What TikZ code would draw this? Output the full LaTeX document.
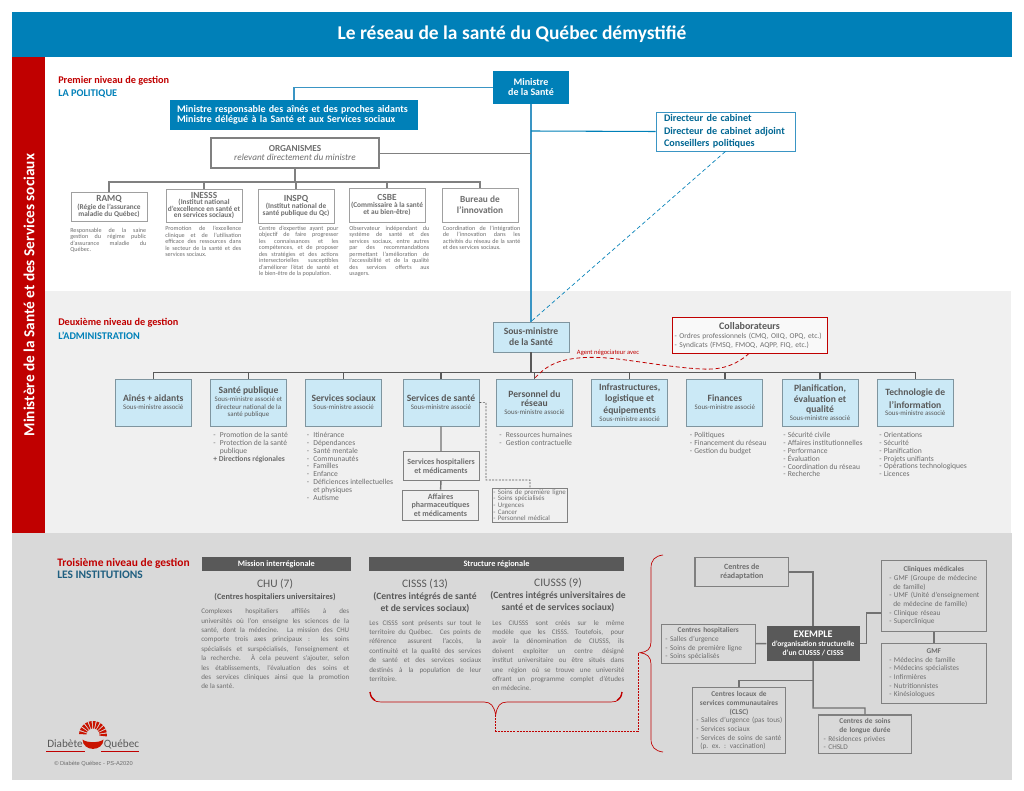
\documentclass[tikz,border=0pt]{standalone}
\usepackage{fontspec}
\setmainfont{Carlito}
\newfontfamily\copyfont{Liberation Sans}
\definecolor{qcblue}{HTML}{0080B8}
\definecolor{qcred}{HTML}{C00000}
\definecolor{lineblue}{HTML}{3A95C4}
\definecolor{paleblue}{HTML}{CBE9F6}
\definecolor{edgeblue}{HTML}{7F959F}
\definecolor{midgray}{HTML}{F0F0F0}
\definecolor{lowgray}{HTML}{D9D9D9}
\definecolor{darkgray}{HTML}{595959}
\definecolor{txtgray}{HTML}{6E6E6E}
\definecolor{edgegray}{HTML}{808080}
\definecolor{edgelight}{HTML}{A0A0A0}
\definecolor{instblue}{HTML}{1F5F80}
\newcommand{\fs}[2]{\fontsize{#1}{#2}\selectfont}
\newcommand{\lit}[1]{\makebox[5pt][l]{-}#1\\}
\newcommand{\litn}[1]{\makebox[3.4pt][l]{-}#1\\}
\newcommand{\ttl}[1]{{\bfseries\fs{7.2}{8}#1}}
\newcommand{\ctr}[1]{\makebox[\linewidth][c]{\bfseries #1}}

\begin{document}
\begin{tikzpicture}[x=0.75pt,y=-0.75pt,node distance=71.4pt]

\tikzstyle{bl} = [rectangle, fill=qcblue, text=white, inner sep=0pt, font=\bfseries\fs{7.5}{7.5}]
\tikzstyle{sq} = [rectangle, draw=edgegray, line width=0.6pt, fill=white, text=txtgray, align=center, inner sep=0pt, minimum width=57pt]
\tikzstyle{org} = [sq, draw=edgelight, minimum height=24pt, font=\bfseries\fs{5.5}{5.3}]
\tikzstyle{pale} = [rectangle, draw=edgeblue, line width=0.7pt, fill=paleblue, text=darkgray, align=center, inner sep=0pt, minimum width=57pt, minimum height=35.25pt, font=\fs{5.2}{5.8}]
\tikzstyle{dk} = [rectangle, fill=darkgray, text=white, inner sep=0pt, font=\bfseries\fs{6.2}{7}]
\tikzstyle{exa} = [rectangle, draw=edgegray, line width=0.8pt, fill=lowgray, text=txtgray, inner sep=0pt, font=\fs{5.5}{6.5}]
\tikzstyle{desc} = [anchor=north west, inner sep=0pt, text width=57pt, align=justify, text=txtgray, font=\fs{4.6}{4.9}]
\tikzstyle{para} = [anchor=north west, inner sep=0pt, align=justify, text=txtgray, font=\fs{5.3}{7.05}]
\tikzstyle{lst} = [anchor=north west, inner sep=0pt, align=left, text=txtgray, font=\fs{5.7}{5.9}]
\tikzstyle{head} = [anchor=west, inner sep=0pt, font=\bfseries\fs{7.7}{8.5}]
\tikzstyle{big} = [inner sep=0pt, align=center, text=darkgray, font=\fs{8.6}{10}]
\tikzstyle{sub} = [inner sep=0pt, align=center, text=darkgray, font=\bfseries\fs{7.2}{9}]
\tikzstyle{mainl} = [lineblue, line width=1.1pt]
\tikzstyle{gl} = [edgegray, line width=1pt]
\tikzstyle{al} = [darkgray, line width=1pt]
\tikzstyle{xl} = [darkgray!85, line width=1.1pt]

\useasboundingbox (0,0) rectangle (1024,791);
\fill[white] (0,0) rectangle (1024,791);

% bands
\fill[midgray] (45,291) rectangle (1011,533);
\fill[lowgray] (12,533) rectangle (1012,780);
\fill[qcblue] (12,12) rectangle (1012,57);
\fill[qcred] (12,57) rectangle (45,533);
\node (title) [inner sep=0pt, text=white, font=\bfseries\fs{14.6}{16}] at (512,34) {Le réseau de la santé du Québec démystifié};
\node (ministere) [inner sep=0pt, text=white, rotate=90, font=\bfseries\fs{11.5}{13}] at (29,295) {Ministère de la Santé et des Services sociaux};

% level 1
\node (lvla) [head, text=qcred] at (58,81) {Premier niveau de gestion};
\node (lvlb) [head, text=qcblue] at (58,93.5) {LA POLITIQUE};
\node (ministre) [bl, minimum width=57pt, minimum height=24.75pt, align=center] at (531,87.5) {Ministre\\de la Santé};
\node (minresp) [bl, minimum height=22.5pt, inner xsep=5.25pt, text width=175.5pt, align=left] at (294,115) {Ministre responsable des aînés et des proches aidants\\Ministre délégué à la Santé et aux Services sociaux};
\node (organismes) [sq, line width=1pt, minimum width=126pt, minimum height=22.5pt, font=\fs{6.9}{7}] at (295,153) {\textbf{ORGANISMES}\\\textit{relevant directement du ministre}};
\node (dircab) [rectangle, draw=lineblue, line width=0.6pt, fill=white, minimum width=104.25pt, minimum height=29.25pt, inner sep=0pt, inner xsep=6pt, text width=92.25pt, align=left, text=qcblue!80!black, font=\bfseries\fs{7.6}{9.25}] at (725.5,131.5) {Directeur de cabinet\\Directeur de cabinet adjoint\\Conseillers politiques};

\node (ramq) [org, minimum height=21.75pt] at (109,206.5) {{\fs{7}{7.5}RAMQ}\\(Régie de l’assurance\\maladie du Québec)};
\node (inesss) [org, minimum height=24.75pt, font=\bfseries\fs{5.5}{4.4}] at (204,205.5) {{\fs{7}{5.5}INESSS}\\(Institut national\\d’excellence en santé et\\en services sociaux)};
\node (inspq) [org, minimum height=25.5pt] at (296,206) {{\fs{7}{7.5}INSPQ}\\(Institut national de\\santé publique du Qc)};
\node (csbe) [org, minimum height=25.5pt] at (387,205) {{\fs{7}{7.5}CSBE}\\(Commissaire à la santé\\et au bien-être)};
\node (bureau) [org, minimum height=25.5pt, font=\bfseries\fs{7}{8.5}] at (480,205) {Bureau de\\l’innovation};

\node (ramqtxt) [desc] at (70,227.5) {Responsable de la saine\linebreak gestion du régime public\linebreak d’assurance maladie du\linebreak Québec.};
\node (inessstxt) [desc] at (165,226) {Promotion de l’excellence\linebreak clinique et de l’utilisation\linebreak efficace des ressources dans\linebreak le secteur de la santé et des\linebreak services sociaux.};
\node (inspqtxt) [desc, text width=59.7pt] at (258.7,225.5) {Centre d’expertise ayant pour\linebreak objectif de faire progresser\linebreak les connaissances et les\linebreak compétences, et de proposer\linebreak des stratégies et des actions\linebreak intersectorielles susceptibles\linebreak d’améliorer l’état de santé et\linebreak le bien-être de la population.};
\node (csbetxt) [desc, text width=60pt] at (349,225.5) {Observateur indépendant du\linebreak système de santé et des\linebreak services sociaux, entre autres\linebreak par des recommandations\linebreak permettant l’amélioration de\linebreak l’accessibilité et de la qualité\linebreak des services offerts aux\linebreak usagers.};
\node (bureautxt) [desc, text width=58pt] at (442.7,225.5) {Coordination de l’intégration\linebreak de l’innovation dans les\linebreak activités du réseau de la santé\linebreak et des services sociaux.};

% level 2
\node (lvlc) [head, text=qcred] at (58,323) {Deuxième niveau de gestion};
\node (lvld) [head, text=qcblue] at (58,335.5) {L’ADMINISTRATION};
\node (sousmin) [pale, minimum height=22.5pt, font=\bfseries\fs{7.2}{8}] at (531,337) {Sous-ministre\\de la Santé};
\node (collab) [rectangle, draw=qcred, line width=0.7pt, fill=midgray!40!white, minimum width=116.25pt, minimum height=26.6pt, inner sep=0pt, inner xsep=2pt, text width=112.25pt, align=left, text=txtgray, font=\fs{5.6}{7}] at (749.5,335.7) {\makebox[\linewidth][c]{\bfseries\fs{7.5}{8}\textcolor{darkgray}{Collaborateurs}}\\- Ordres professionnels (CMQ, OIIQ, OPQ, etc.)\\- Syndicats (FMSQ, FMOQ, AQPP, FIQ, etc.)};

\node (aines) [pale] at (153.25,402.5) {\ttl{Aînés + aidants}\\Sous-ministre associé};
\node (santepub) [pale, right of=aines] {\ttl{Santé publique}\\Sous-ministre associé et\\directeur national de la\\santé publique};
\node (servsoc) [pale, right of=santepub] {\ttl{Services sociaux}\\Sous-ministre associé};
\node (servsan) [pale, right of=servsoc, xshift=1.6pt] {\ttl{Services de santé}\\Sous-ministre associé};
\node (personnel) [pale, right of=servsan, xshift=-1.3pt] {\ttl{Personnel du}\\[1.6pt]\ttl{réseau}\\Sous-ministre associé};
\node (infra) [pale, right of=personnel] {\ttl{Infrastructures,}\\[1.6pt]\ttl{logistique et}\\[1.6pt]\ttl{équipements}\\Sous-ministre associé};
\node (finances) [pale, right of=infra] {\ttl{Finances}\\Sous-ministre associé};
\node (planif) [pale, right of=finances] {\ttl{Planification,}\\[1.6pt]\ttl{évaluation et}\\[1.6pt]\ttl{qualité}\\Sous-ministre associé};
\node (techno) [pale, right of=planif] {\ttl{Technologie de}\\[1.6pt]\ttl{l’information}\\Sous-ministre associé};

\node (servhop) [sq, fill=midgray, line width=0.7pt, minimum height=21.75pt, font=\bfseries\fs{6}{6.7}] at (441,466.2) {Services hospitaliers\\et médicaments};
\node (affaires) [sq, fill=midgray, line width=0.7pt, minimum height=22.5pt, font=\bfseries\fs{6}{6.3}] at (440.5,505) {Affaires\\pharmaceutiques\\et médicaments};
\node (soinsbox) [sq, fill=midgray, line width=0.5pt, anchor=north west, minimum width=56.6pt, minimum height=25.6pt, inner xsep=0.8pt, text width=55pt, align=left, font=\fs{5.2}{4.9}] at (492,487.7) {- Soins de première ligne\\- Soins spécialisés\\- Urgences\\- Cancer\\- Personnel médical};

\node (lstsante) [lst] at (213,432) {\lit{Promotion de la santé}\lit{Protection de la santé}\hspace*{5pt}publique\\{\bfseries + Directions régionales}};
\node (lstsoc) [lst] at (306.5,432) {\lit{Itinérance}\lit{Dépendances}\lit{Santé mentale}\lit{Communautés}\lit{Familles}\lit{Enfance}\lit{Déficiences intellectuelles}\hspace*{5pt}et physiques\\\lit{Autisme}};
\node (lstpers) [lst] at (499,432) {\lit{Ressources humaines}\lit{Gestion contractuelle}};
\node (lstfin) [lst] at (689.5,432) {\litn{Politiques}\litn{Financement du réseau}\litn{Gestion du budget}};
\node (lstplan) [lst] at (783,432) {\litn{Sécurité civile}\litn{Affaires institutionnelles}\litn{Performance}\litn{Évaluation}\litn{Coordination du réseau}\litn{Recherche}};
\node (lsttech) [lst] at (879,432) {\litn{Orientations}\litn{Sécurité}\litn{Planification}\litn{Projets unifiants}\litn{Opérations technologiques}\litn{Licences}};
\node (agent) [inner sep=0pt, text=qcred, font=\fs{4.9}{5.5}] at (608,353) {Agent négociateur avec};

% level 3
\node (lvle) [head, text=qcred, font=\bfseries\fs{8.6}{9}] at (57,563) {Troisième niveau de gestion};
\node (lvlf) [head, text=instblue, font=\bfseries\fs{8.6}{9}] at (57,575) {LES INSTITUTIONS};
\node (mission) [dk, minimum width=111.75pt, minimum height=10.3pt] at (276.3,564) {Mission interrégionale};
\node (structure) [dk, minimum width=191.25pt, minimum height=10.3pt] at (496.5,564) {Structure régionale};
\node (chu) [big] at (275,584.5) {CHU (7)};
\node (chusub) [sub, font=\bfseries\fs{6.2}{9}] at (275,597) {(Centres hospitaliers universitaires)};
\node (cisss) [big] at (425,584.5) {CISSS (13)};
\node (cissssub) [sub] at (425,602.5) {(Centres intégrés de santé\\et de services sociaux)};
\node (ciusss) [big] at (558,583.5) {CIUSSS (9)};
\node (ciussssub) [sub] at (558,602) {(Centres intégrés universitaires de\\santé et de services sociaux)};

\node (chutxt) [para, text width=111pt] at (201,608.5) {Complexes hospitaliers affiliés à des\linebreak universités où l’on enseigne les sciences de la\linebreak santé, dont la médecine. La mission des CHU\linebreak comporte trois axes principaux : les soins\linebreak spécialisés et surspécialisés, l’enseignement et\linebreak la recherche. À cela peuvent s’ajouter, selon\linebreak les établissements, l’évaluation des soins et\linebreak des services cliniques ainsi que la promotion\linebreak de la santé.};
\node (cissstxt) [para, text width=84pt] at (369,620) {Les CISSS sont présents sur tout le\linebreak territoire du Québec. Ces points de\linebreak référence assurent l’accès, la\linebreak continuité et la qualité des services\linebreak de santé et des services sociaux\linebreak destinés à la population de leur\linebreak territoire.};
\node (ciussstxt) [para, text width=99pt] at (492,620) {Les CIUSSS sont créés sur le même\linebreak modèle que les CISSS. Toutefois, pour\linebreak avoir la dénomination de CIUSSS, ils\linebreak doivent exploiter un centre désigné\linebreak institut universitaire ou être situés dans\linebreak une région où se trouve une université\linebreak offrant un programme complet d’études\linebreak en médecine.};

% braces
\coordinate (lowtip) at (495.7,715);
\coordinate (sidetip) at (640,652.7);
\coordinate (bendA) at (495.7,731);
\coordinate (bendB) at (638,731);
\coordinate (bendC) at (638,652.7);
\draw[qcred, line width=0.5pt] (370,692) .. controls (371,699) and (374,702) .. (381,702) -- (484,702) .. controls (491,702) and (494,706) .. (lowtip) .. controls (497,706) and (500,702) .. (507,702) -- (611,702) .. controls (618,702) and (621,699) .. (622,692);
\draw[qcred, line width=1pt] (370,692) .. controls (370.5,696) and (372,699) .. (375,700.5);
\draw[qcred, line width=1pt] (622,692) .. controls (621.5,696) and (620,699) .. (617,700.5);
\draw[qcred, line width=0.5pt] (663,555) .. controls (655,556) and (651,560) .. (651,568) -- (651,642) .. controls (651,649) and (647,652) .. (sidetip) .. controls (647,653.5) and (651,657) .. (651,664) -- (651,739) .. controls (651,747) and (655,751) .. (663,752);
\draw[qcred, line width=0.7pt, dashed, dash pattern=on 1.5pt off 0.8pt] (lowtip) -- (bendA) -- (bendB) -- (bendC);

% example
\node (exemple) [rectangle, fill=darkgray, text=white, inner sep=0pt, minimum width=69.75pt, minimum height=26pt, align=center, font=\bfseries\fs{5.7}{6.9}] at (813.2,643.6) {{\fs{7.6}{8.5}EXEMPLE}\\d’organisation structurelle\\d’un CIUSSS / CISSS};
\node (readapt) [exa, minimum width=70.2pt, minimum height=22pt, align=center, font=\bfseries\fs{6}{6.5}] at (741.8,572) {Centres de\\réadaptation};
\node (hosp) [exa, minimum width=70.3pt, minimum height=29.25pt, inner xsep=3pt, text width=64.3pt, align=left] at (708.2,643.8) {\ctr{Centres hospitaliers}\\- Salles d’urgence\\- Soins de première ligne\\- Soins spécialisés};
\node (clinique) [exa, minimum width=78.75pt, minimum height=53.5pt, inner xsep=3pt, text width=72.75pt, align=left] at (933.8,596) {\ctr{Cliniques médicales}\\\hspace*{3pt}- GMF (Groupe de médecine\\\hspace*{6pt}de famille)\\\hspace*{3pt}- UMF (Unité d’enseignement\\\hspace*{6pt}de médecine de famille)\\\hspace*{3pt}- Clinique réseau\\\hspace*{3pt}- Superclinique};
\node (gmf) [exa, minimum width=78.75pt, minimum height=45pt, inner xsep=3pt, text width=72.75pt, align=left] at (933.8,673.3) {\ctr{GMF}\\\hspace*{3pt}- Médecins de famille\\\hspace*{3pt}- Médecins spécialistes\\\hspace*{3pt}- Infirmières\\\hspace*{3pt}- Nutritionnistes\\\hspace*{3pt}- Kinésiologues};
\node (clsc) [exa, minimum width=70pt, minimum height=49.5pt, inner xsep=2pt, text width=66pt, align=left] at (739,720.7) {\ctr{Centres locaux de}\\\ctr{services communautaires}\\\ctr{(CLSC)}\\\hspace*{1pt}- Salles d’urgence (pas tous)\\\hspace*{1pt}- Services sociaux\\\hspace*{1pt}- Services de soins de santé\\\hspace*{4pt}(p. ex. : vaccination)};
\node (longue) [exa, minimum width=70pt, minimum height=29pt, inner xsep=4pt, text width=62pt, align=left] at (865,734.3) {\ctr{Centres de soins}\\\ctr{de longue durée}\\- Résidences privées\\- CHSLD};

% logo
\node (diabete) [inner sep=0pt, text=darkgray, font=\fs{8.4}{9}] at (65,744) {Diabète};
\node (quebec) [inner sep=0pt, text=darkgray, font=\fs{8.4}{9}] at (121.5,744) {Québec};
\coordinate (emblem) at (93,735);
\begin{scope}[shift={(emblem)}]
\foreach \a in {190,207,...,360}
  \fill[qcred!85!orange] ({\a-5}:6.5) -- ({\a+5}:6.5) -- ({\a+6}:14) -- ({\a-6}:14) -- cycle;
\fill[qcred!85!orange] (-10.5,4.5) .. controls (-10,17) and (10,17) .. (10.5,4.5) .. controls (7,8) and (-7,8) .. cycle;
\end{scope}
\draw[qcred, line width=0.6pt] (46,751) -- (85,751);
\draw[qcred, line width=0.6pt] (101,751) -- (139,751);
\node (copyr) [inner sep=0pt, text=txtgray, font=\copyfont\fs{4.3}{5}] at (93.5,764) {© Diabète Québec - PS-A2020};

% connectors
\coordinate (orgjoin) at (531,153);
\coordinate (cabjoin) at (531,131);
\coordinate (orgbar) at (295,182);
\coordinate (admbar) at (531,372.5);
\coordinate (dashA) at (486,402.7);
\coordinate (dashB) at (486,480);
\coordinate (dashC) at (530,480);
\coordinate (exaA) at (813,680.7);
\coordinate (exaB) at (813,708);
\coordinate (exaC) at (866.7,643.6);
\coordinate (exaD) at (866.7,613);
\coordinate (negS) at (749,353.5);
\coordinate (negA) at (702,369);
\coordinate (negB) at (633,361);
\coordinate (negC) at (574,358.5);

\draw[mainl] (ministre)--(sousmin);
\draw[mainl, line width=0.8pt] (ministre.west)-|(minresp.north);
\draw[mainl, qcblue, line width=0.8pt] (dircab.west)--(cabjoin);
\draw[qcblue, densely dashed, line width=0.5pt] (dircab.south)--(sousmin.north);
\draw[gl, line width=0.7pt] (organismes.east)--(orgjoin);
\draw[gl] (organismes)--(orgbar);
\draw[gl] (ramq.north)|-(orgbar);
\draw[gl] (inesss.north)|-(orgbar);
\draw[gl] (inspq.north)|-(orgbar);
\draw[gl] (csbe.north)|-(orgbar);
\draw[gl] (bureau.north)|-(orgbar);

\draw[al] (sousmin)--(admbar);
\draw[al] (aines.north)|-(admbar);
\draw[al] (santepub.north)|-(admbar);
\draw[al] (servsoc.north)|-(admbar);
\draw[al] (servsan.north)|-(admbar);
\draw[al] (personnel.north)|-(admbar);
\draw[al] (infra.north)|-(admbar);
\draw[al] (finances.north)|-(admbar);
\draw[al] (planif.north)|-(admbar);
\draw[al] (techno.north)|-(admbar);
\draw[xl] (servsan)--(servhop);
\draw[xl] (servhop)--(affaires);
\draw[darkgray, dashed, dash pattern=on 1.5pt off 1pt, line width=0.5pt] (servsan.east)--(dashA)--(dashB)--(dashC)--(soinsbox.north-|dashC);
\draw[qcred, densely dashed, line width=0.6pt] (negS) .. controls (735,366) and (720,370) .. (negA) .. controls (680,368) and (655,364) .. (negB) .. controls (612,358) and (592,356) .. (negC) .. controls (555,361) and (545,367) .. (personnel.north);

\draw[xl] (readapt.east)-|(exemple.north);
\draw[xl] (hosp)--(exemple);
\draw[xl] (exemple.east)--(exaC)--(exaD)--(clinique.west|-exaD);
\draw[xl] (clinique)--(gmf);
\draw[xl] (exemple.south)--(exaB)-|(longue.north);
\draw[xl] (exaA)-|(clsc.north);

\end{tikzpicture}
\end{document}
